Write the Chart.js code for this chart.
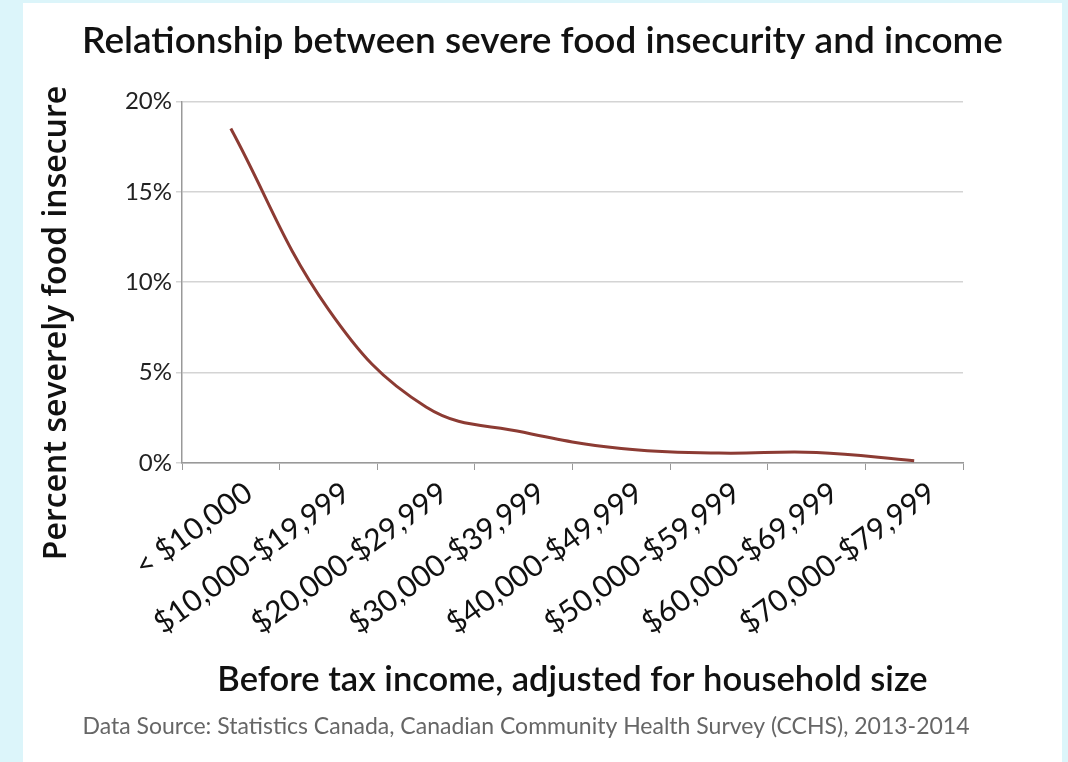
<!DOCTYPE html>
<html>
<head>
<meta charset="utf-8">
<script src="https://cdn.jsdelivr.net/npm/chart.js@4.4.1/dist/chart.umd.min.js"></script>
<style>
    html, body { margin: 0; padding: 0; }
    body { width: 1068px; height: 762px; background: #dcf5fa; overflow: hidden; }
    #panel { position: absolute; left: 23px; top: 3px; width: 1039px; height: 759px; background: #fff; }
    canvas { display: block; }
</style>
</head>
<body>
<div id="panel"><canvas id="foodChart" width="1039" height="759"></canvas></div>
<script>
// categorias de renda (antes de impostos)
const incomeGroups = ['< $10,000', '$10,000-$19,999', '$20,000-$29,999', '$30,000-$39,999',
    '$40,000-$49,999', '$50,000-$59,999', '$60,000-$69,999', '$70,000-$79,999'];

// percentual com inseguranca alimentar severa
const severePercent = [18.5, 8.5, 3.1, 1.7, 0.8, 0.55, 0.58, 0.12];

const yTicks = [0, 5, 10, 15, 20];

const chartTitle = 'Relationship between severe food insecurity and income';
const yTitle = 'Percent severely food insecure';
const xTitle = 'Before tax income, adjusted for household size';
const sourceText = 'Data Source: Statistics Canada, Canadian Community Health Survey (CCHS), 2013-2014';

// titulo do eixo Y e fonte dos dados desenhados a mao
const extraTextPlugin = {
    id: 'extraTextPlugin',
    afterDraw(chart) {
        const ctx = chart.ctx;
        ctx.save();
        ctx.translate(34, 320);
        ctx.rotate(-Math.PI / 2);
        ctx.font = '600 32px "Open Sans"';
        ctx.fillStyle = '#111';
        ctx.textAlign = 'center';
        ctx.textBaseline = 'middle';
        ctx.fillText(yTitle, 0, 0);
        ctx.restore();

        ctx.save();
        ctx.font = '400 23px Lato';
        ctx.fillStyle = '#666';
        ctx.textAlign = 'center';
        ctx.textBaseline = 'middle';
        ctx.fillText(sourceText, 503, 724);
        ctx.restore();
    }
};

const ctx = document.getElementById('foodChart').getContext('2d');
new Chart(ctx, {
    type: 'line',
    data: {
        labels: incomeGroups,
        datasets: [{
            label: 'Severe food insecurity',
            data: severePercent,
            borderColor: '#8c3b33',
            borderWidth: 3,
            pointRadius: 0,
            tension: 0.4,
            fill: false
        }]
    },
    options: {
        responsive: false,
        animation: false,
        layout: { padding: { left: 0, right: 0, top: 0, bottom: 46 } },
        plugins: {
            legend: { display: false },
            tooltip: { enabled: false },
            title: {
                display: true,
                text: chartTitle,
                color: '#111',
                font: { family: 'Lato', size: 37, weight: '600' },
                padding: { top: 16, bottom: 38 }
            }
        },
        scales: {
            x: {
                offset: true,
                grid: { display: true, offset: true, drawOnChartArea: false, tickLength: 7, color: '#999' },
                border: { color: '#999', width: 1.5 },
                ticks: {
                    color: '#111',
                    font: { family: 'Lato', size: 30 },
                    maxRotation: 36, minRotation: 36,
                    autoSkip: false, padding: 5,
                    labelOffset: 18
                },
                title: {
                    display: true,
                    text: xTitle,
                    color: '#111',
                    font: { family: 'Lato', size: 34.5, weight: '600' },
                    padding: { top: 0, bottom: 15 }
                },
                afterFit(scale) { scale.height = 253; }
            },
            y: {
                min: 0,
                max: 20,
                afterBuildTicks(scale) { scale.ticks = yTicks.map(v => ({ value: v })); },
                grid: { color: '#d4d4d4', tickLength: 6, lineWidth: 1.5 },
                border: { color: '#999', width: 1.5 },
                ticks: {
                    color: '#222',
                    font: { family: 'Lato', size: 24 },
                    padding: 4,
                    callback: v => v + '%'
                },
                afterFit(scale) { scale.width = 159; }
            },
            // eixo vazio a direita so para reservar espaco
            yRight: {
                position: 'right',
                display: true,
                grid: { display: false },
                border: { display: false },
                ticks: { display: false },
                afterFit(scale) { scale.width = 99; }
            }
        }
    },
    plugins: [extraTextPlugin]
});
</script>
</body>
</html>
